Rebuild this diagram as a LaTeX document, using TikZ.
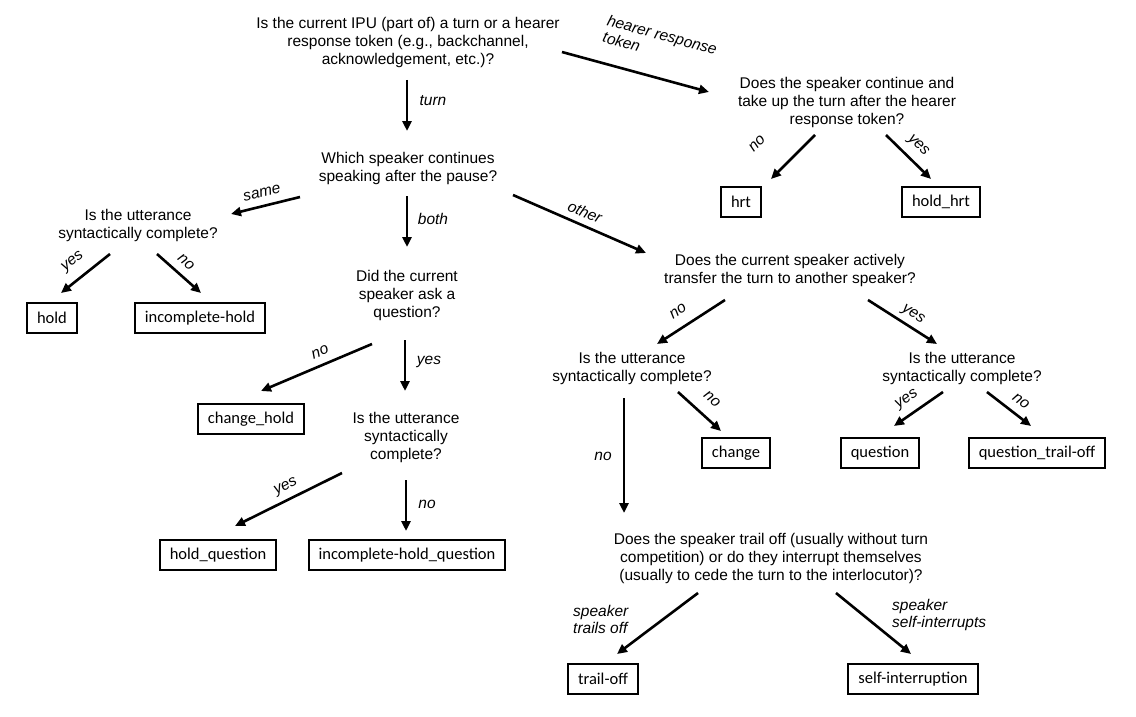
\documentclass[tikz,border=0pt]{standalone}
\usepackage{fontspec}
\setmainfont{Liberation Sans}
\newfontfamily\boxfont{Carlito}
\usetikzlibrary{arrows.meta}
\begin{document}
\begin{tikzpicture}[x=1pt,y=-1pt,
  q/.style={align=center,inner sep=0pt,font=\fontsize{15.5}{18}\selectfont},
  res/.style={draw,line width=1.8pt,minimum height=30pt,inner xsep=10pt,inner ysep=0pt,font=\boxfont\fontsize{16.5}{18}\selectfont},
  lab/.style={inner sep=0pt,align=left,font=\itshape\fontsize{15.5}{17}\selectfont},
  arr/.style={line width=2.6pt,-{Triangle[length=10pt,width=9pt]}}]
\useasboundingbox (0,0) rectangle (1136,717);
% questions
\node[q] (q1) at (408,42) {Is the current IPU (part of) a turn or a hearer\\response token (e.g., backchannel,\\acknowledgement, etc.)?};
\node[q] (q3) at (847,102) {Does the speaker continue and\\take up the turn after the hearer\\response token?};
\node[q] (q2) at (408,168) {Which speaker continues\\speaking after the pause?};
\node[q] (q4) at (138,225) {Is the utterance\\syntactically complete?};
\node[q] (q5) at (407,295) {Did the current\\speaker ask a\\question?};
\node[q] (q7) at (406,437) {Is the utterance\\syntactically\\complete?};
\node[q] (q6) at (790,270) {Does the current speaker actively\\transfer the turn to another speaker?};
\node[q] (q8) at (632,368) {Is the utterance\\syntactically complete?};
\node[q] (q9) at (962,368) {Is the utterance\\syntactically complete?};
\node[q] (q10) at (771,558) {Does the speaker trail off (usually without turn\\competition) or do they interrupt themselves\\(usually to cede the turn to the interlocutor)?};
% results
\node[res] (hrt) at (741,202) {hrt};
\node[res] (holdhrt) at (941,202) {hold\_hrt};
\node[res] (hold) at (52,318) {hold};
\node[res] (ihold) at (200,318) {incomplete-hold};
\node[res] (chold) at (251,419) {change\_hold};
\node[res] (hq) at (218,555) {hold\_question};
\node[res] (ihq) at (407,555) {incomplete-hold\_question};
\node[res] (change) at (736,453) {change};
\node[res] (question) at (880,453) {question};
\node[res] (qto) at (1037,453) {question\_trail-off};
\node[res] (to) at (603,679) {trail-off};
\node[res] (si) at (913,679) {self-interruption};
% arrow end points
\coordinate (a1s) at (407,80);  \coordinate (a1e) at (407,131);
\coordinate (a2s) at (562,52);  \coordinate (a2e) at (709,92);
\coordinate (a3s) at (815,135); \coordinate (a3e) at (771,179);
\coordinate (a4s) at (886,135); \coordinate (a4e) at (931,179);
\coordinate (a5s) at (300,197); \coordinate (a5e) at (231,214);
\coordinate (a6s) at (407,196); \coordinate (a6e) at (407,247);
\coordinate (a7s) at (513,195); \coordinate (a7e) at (646,253);
\coordinate (a8s) at (110,254); \coordinate (a8e) at (61,293);
\coordinate (a9s) at (157,254); \coordinate (a9e) at (201,293);
\coordinate (a10s) at (372,344); \coordinate (a10e) at (261,391);
\coordinate (a11s) at (405,340); \coordinate (a11e) at (405,391);
\coordinate (a12s) at (342,473); \coordinate (a12e) at (235,526);
\coordinate (a13s) at (406,480); \coordinate (a13e) at (406,531);
\coordinate (a14s) at (725,300); \coordinate (a14e) at (657,344);
\coordinate (a15s) at (868,300); \coordinate (a15e) at (937,344);
\coordinate (a16s) at (678,392); \coordinate (a16e) at (721,431);
\coordinate (a17s) at (624,398); \coordinate (a17e) at (624,513);
\coordinate (a18s) at (943,392); \coordinate (a18e) at (894,426);
\coordinate (a19s) at (987,392); \coordinate (a19e) at (1031,426);
\coordinate (a20s) at (698,593); \coordinate (a20e) at (617,654);
\coordinate (a21s) at (836,593); \coordinate (a21e) at (911,654);
\foreach \i in {1,...,21} {\draw[arr] (a\i s) -- (a\i e);}
% labels
\node[lab] (l1) at (433,101) {turn};
\node[lab,rotate=-15] (l2) at (660,43) {hearer response\\token};
\node[lab,rotate=45] (l3) at (757,144) {no};
\node[lab,rotate=-45] (l4) at (918,146) {yes};
\node[lab,rotate=13] (l5) at (262,193) {same};
\node[lab] (l6) at (433,219) {both};
\node[lab,rotate=-23] (l7) at (585,212) {other};
\node[lab,rotate=38] (l8) at (73,262) {yes};
\node[lab,rotate=-41] (l9) at (186,262) {no};
\node[lab,rotate=22] (l10) at (320,352) {no};
\node[lab] (l11) at (429,362) {yes};
\node[lab,rotate=26] (l12) at (286,487) {yes};
\node[lab] (l13) at (427,504) {no};
\node[lab,rotate=33] (l14) at (678,311) {no};
\node[lab,rotate=-33] (l15) at (913,315) {yes};
\node[lab,rotate=-41] (l16) at (712,399) {no};
\node[lab] (l17) at (603,456) {no};
\node[lab,rotate=34] (l18) at (907,400) {yes};
\node[lab,rotate=-37] (l19) at (1021,401) {no};
\node[lab,anchor=west] (l20) at (573,619) {speaker\\trails off};
\node[lab,anchor=west] (l21) at (892,615) {speaker\\self-interrupts};
\end{tikzpicture}
\end{document}
